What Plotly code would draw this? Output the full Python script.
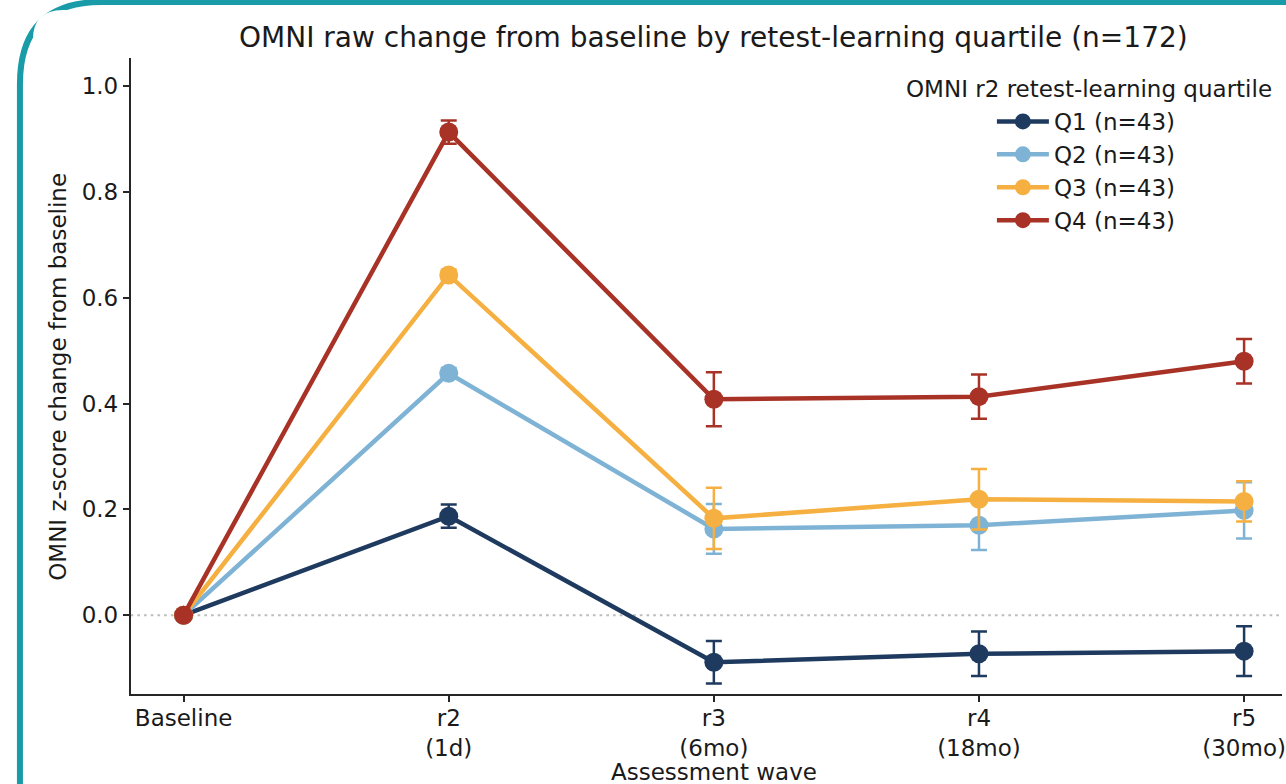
import plotly.graph_objects as go

W, H = 1286, 784

waves = [0, 1, 2, 3, 4]
wave_labels = ["Baseline", "r2<br>(1d)", "r3<br>(6mo)", "r4<br>(18mo)", "r5<br>(30mo)"]

quartile_names = ["Q1 (n=43)", "Q2 (n=43)", "Q3 (n=43)", "Q4 (n=43)"]
quartile_colors = ["#1f3a5f", "#7fb3d5", "#f5b041", "#a93226"]

q1_mean = [0.0, 0.187, -0.089, -0.073, -0.068]
q1_sem = [0.0, 0.022, 0.040, 0.042, 0.047]
q2_mean = [0.0, 0.457, 0.163, 0.170, 0.198]
q2_sem = [0.0, 0.010, 0.047, 0.047, 0.053]
q3_mean = [0.0, 0.643, 0.183, 0.219, 0.215]
q3_sem = [0.0, 0.010, 0.058, 0.057, 0.038]
q4_mean = [0.0, 0.913, 0.408, 0.413, 0.480]
q4_sem = [0.0, 0.022, 0.051, 0.042, 0.042]

means = [q1_mean, q2_mean, q3_mean, q4_mean]
sems = [q1_sem, q2_sem, q3_sem, q4_sem]

FONT = "DejaVu Sans"
INK = "#1a1a1a"


def px(x):
    return x / W


def py(y):
    return 1 - y / H


fig = go.Figure()

for name, color, m, s in zip(quartile_names, quartile_colors, means, sems):
    fig.add_trace(go.Scatter(
        x=waves, y=m, name=name, mode="lines+markers",
        line=dict(color=color, width=4.5),
        marker=dict(color=color, size=19),
        error_y=dict(type="data", array=s, visible=True, color=color,
                     thickness=2.5, width=8),
    ))

shapes = [
    # teal frame round the figure
    dict(type="path", xref="paper", yref="paper", layer="below",
         path=(f"M {px(20)},{py(800)} L {px(20)},{py(84)} "
               f"Q {px(20)},{py(2)} {px(102)},{py(2)} L {px(1300)},{py(2)}"),
         line=dict(color="#1a9ba8", width=6)),
    # white card over the frame corner
    dict(type="path", xref="paper", yref="paper", layer="below",
         path=(f"M {px(33)},{py(800)} L {px(33)},{py(40)} "
               f"Q {px(33)},{py(10)} {px(63)},{py(10)} L {px(1300)},{py(10)} "
               f"L {px(1300)},{py(800)} Z"),
         fillcolor="white", line=dict(width=0)),
    # zero reference line
    dict(type="line", xref="x domain", yref="y", x0=0, x1=1, y0=0, y1=0,
         layer="below", line=dict(color="#bdbdbd", width=2, dash="2.7px,4px")),
]

annotations = [
    dict(text="OMNI raw change from baseline by retest-learning quartile (n=172)",
         x=px(716), y=py(38), xref="paper", yref="paper", showarrow=False,
         xanchor="center", yanchor="middle", font=dict(size=28, color=INK, family=FONT)),
    dict(text="Assessment wave", x=px(716), y=py(772), xref="paper", yref="paper",
         showarrow=False, xanchor="center", yanchor="middle",
         font=dict(size=23, color=INK, family=FONT)),
    dict(text="OMNI z-score change from baseline", x=px(58), y=py(377),
         xref="paper", yref="paper", showarrow=False, textangle=-90,
         xanchor="center", yanchor="middle", font=dict(size=23, color=INK, family=FONT)),
    dict(text="OMNI r2 retest-learning quartile", x=px(1092), y=py(89),
         xref="paper", yref="paper", showarrow=False, xanchor="center",
         yanchor="middle", font=dict(size=23, color=INK, family=FONT)),
]

axis_common = dict(
    showline=True, linecolor="#262626", linewidth=1.5,
    ticks="outside", ticklen=6, tickwidth=1.5, tickcolor="#262626",
    showgrid=False, zeroline=False,
    tickfont=dict(size=23, color=INK, family=FONT),
)

fig.update_layout(
    width=W, height=H,
    margin=dict(l=0, r=0, t=0, b=0),
    paper_bgcolor="white", plot_bgcolor="rgba(0,0,0,0)",
    font=dict(family=FONT, color=INK, size=23),
    xaxis=dict(domain=[px(131), 1], range=[-0.2, 4.143],
               tickvals=waves, ticktext=wave_labels,
               ticklabeloverflow="allow", ticklabelstandoff=-3, **axis_common),
    yaxis=dict(domain=[py(694), py(58)], range=[-0.149, 1.053],
               tickvals=[0, 0.2, 0.4, 0.6, 0.8, 1.0], tickformat=".1f",
               **axis_common),
    showlegend=True,
    legend=dict(x=px(995), y=py(100), xanchor="left", yanchor="top",
                bgcolor="rgba(0,0,0,0)", font=dict(size=23, color=INK, family=FONT),
                itemwidth=52, tracegroupgap=0),
    shapes=shapes,
    annotations=annotations,
)

fig.write_html("out.html")
